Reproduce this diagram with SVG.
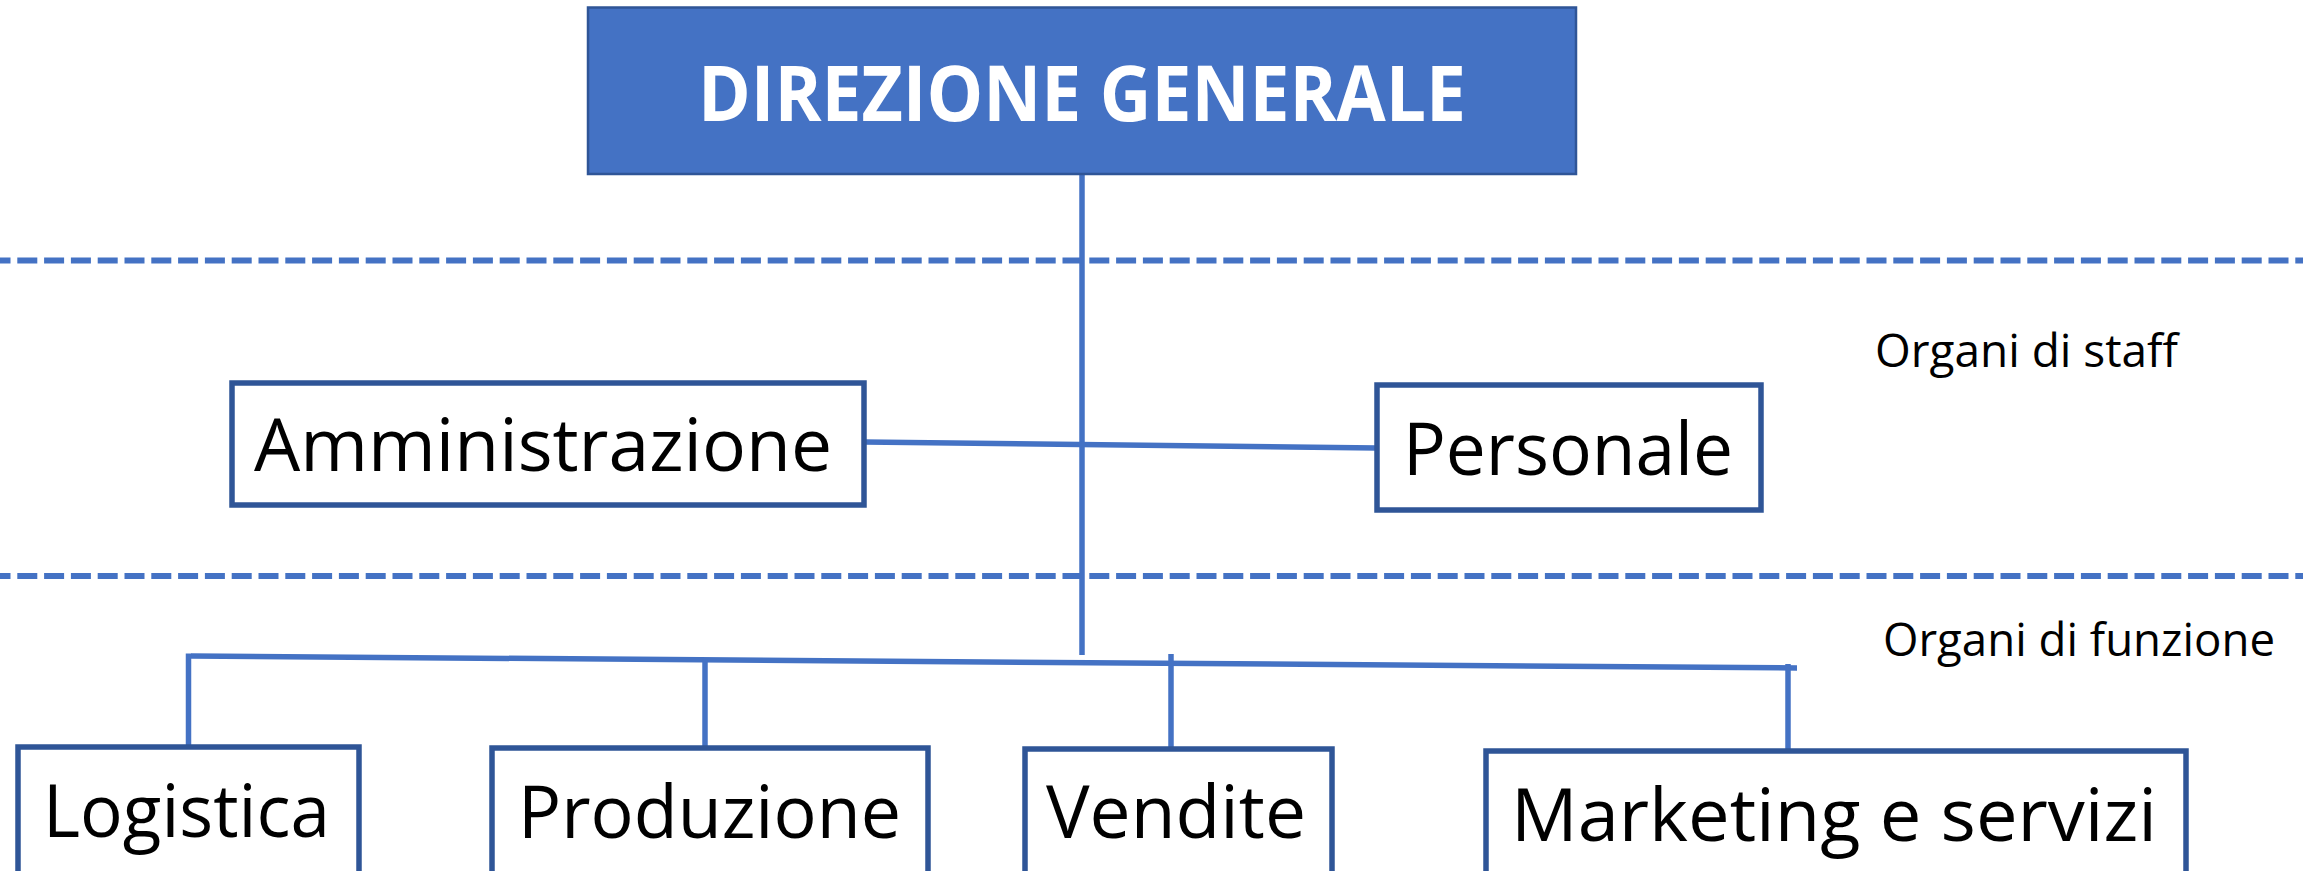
<svg xmlns="http://www.w3.org/2000/svg" width="2303" height="871" viewBox="0 0 2303 871">
<style>
.box{fill:#ffffff;stroke:#2F5597;stroke-width:5.5}
.lbl{font-family:"Open Sans","Liberation Sans",sans-serif;font-size:74px;fill:#000000}
.side{font-family:"Open Sans","Liberation Sans",sans-serif;font-size:46px;fill:#000000}
.conn{stroke:#4472C4;stroke-width:5.5;fill:none}
.dash{stroke:#4472C4;stroke-width:6;stroke-dasharray:20 6.8;fill:none}
</style>
<rect width="2303" height="871" fill="#ffffff"/>
<g id="separators">
<line class="dash" x1="0" y1="260.5" x2="2303" y2="260.5" stroke-dashoffset="9.5"/>
<line class="dash" x1="0" y1="576" x2="2303" y2="576" stroke-dashoffset="9.5"/>
</g>
<g id="connectors">
<line class="conn" x1="1082" y1="174" x2="1082" y2="655"/>
<line class="conn" x1="864" y1="442" x2="1377" y2="448"/>
<line class="conn" x1="191" y1="656" x2="1797" y2="668"/>
<line class="conn" x1="188.5" y1="653.5" x2="188.5" y2="747"/>
<line class="conn" x1="705" y1="659" x2="705" y2="748"/>
<line class="conn" x1="1171" y1="654" x2="1171" y2="749"/>
<line class="conn" x1="1788" y1="664" x2="1788" y2="756"/>
</g>
<g id="direzione">
<rect x="588" y="7.5" width="988" height="166.5" fill="#4472C4" stroke="#2F5597" stroke-width="2.5"/>
<text x="698" y="121" font-family="'Open Sans','Liberation Sans',sans-serif" font-weight="bold" font-size="77" fill="#ffffff" textLength="768" lengthAdjust="spacingAndGlyphs">DIREZIONE GENERALE</text>
</g>
<g id="amministrazione">
<rect class="box" x="232" y="383" width="632" height="122"/>
<text class="lbl" x="254" y="471" textLength="578" lengthAdjust="spacingAndGlyphs">Amministrazione</text>
</g>
<g id="personale">
<rect class="box" x="1377" y="385" width="384" height="125"/>
<text class="lbl" x="1403" y="475" textLength="330" lengthAdjust="spacingAndGlyphs">Personale</text>
</g>
<g id="logistica">
<rect class="box" x="18" y="747" width="341" height="160"/>
<text class="lbl" x="43" y="837" textLength="287" lengthAdjust="spacingAndGlyphs">Logistica</text>
</g>
<g id="produzione">
<rect class="box" x="492" y="748" width="436" height="160"/>
<text class="lbl" x="518" y="838" textLength="383" lengthAdjust="spacingAndGlyphs">Produzione</text>
</g>
<g id="vendite">
<rect class="box" x="1025" y="749" width="307" height="160"/>
<text class="lbl" x="1046" y="838" textLength="260" lengthAdjust="spacingAndGlyphs">Vendite</text>
</g>
<g id="marketing">
<rect class="box" x="1486" y="751" width="700" height="160"/>
<text class="lbl" x="1511" y="841" textLength="646" lengthAdjust="spacingAndGlyphs">Marketing e servizi</text>
</g>
<g id="labels">
<text class="side" x="1875" y="367" textLength="303" lengthAdjust="spacingAndGlyphs">Organi di staff</text>
<text class="side" x="1883" y="656" textLength="392" lengthAdjust="spacingAndGlyphs">Organi di funzione</text>
</g>
</svg>
